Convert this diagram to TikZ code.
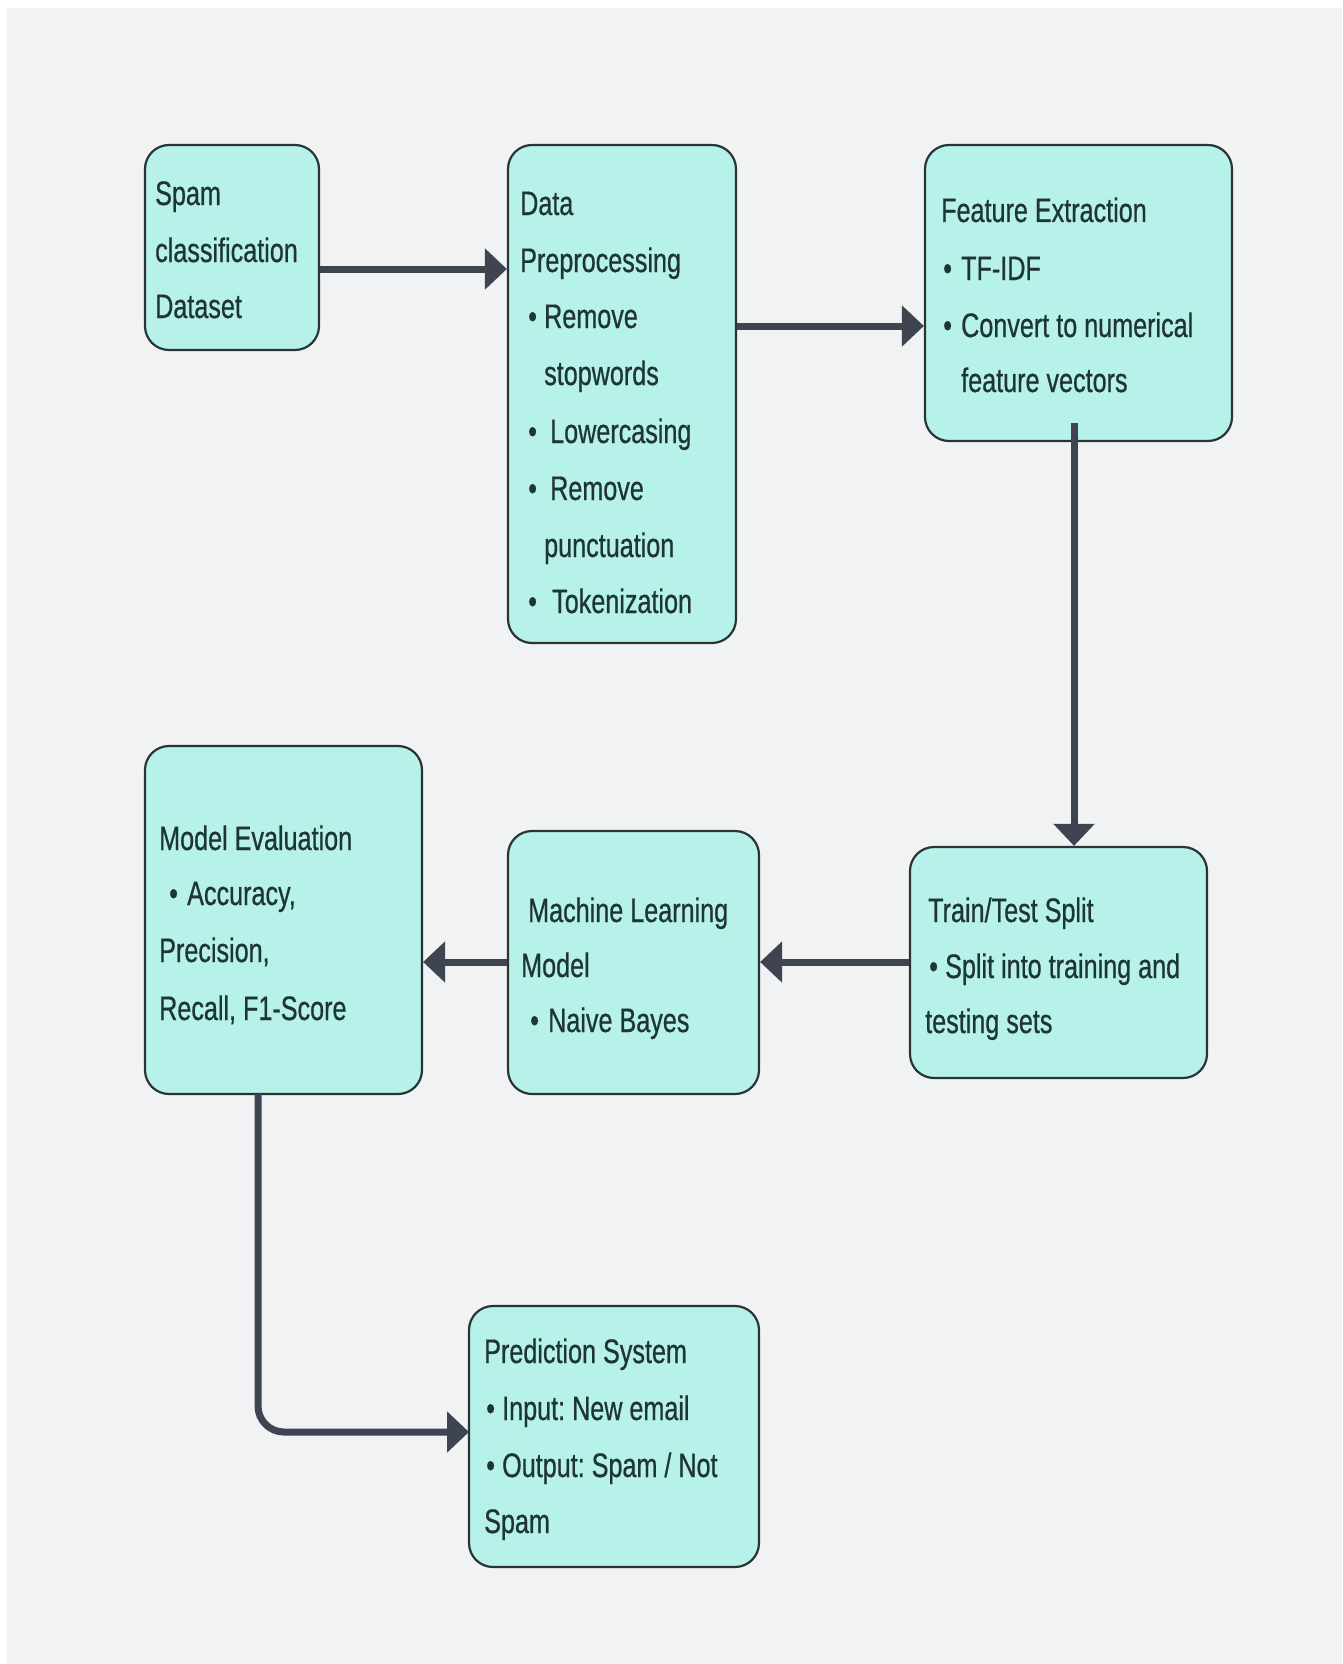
\documentclass[tikz,border=0pt]{standalone}
\usepackage{fontspec}
\setmainfont[FakeStretch=0.74,FakeBold=0.6]{Liberation Sans}
\usetikzlibrary{arrows.meta}
\frenchspacing
\definecolor{bgc}{HTML}{F1F2F4}
\definecolor{boxc}{HTML}{B6F2EA}
\definecolor{edgec}{HTML}{2A3434}
\definecolor{txtc}{HTML}{1F3534}
\definecolor{linec}{HTML}{3E4450}
\newcommand\bl[1]{\makebox[#1pt][l]{•}}
\tikzset{
  box/.style={draw=edgec, fill=boxc, line width=2.2pt, rounded corners=24pt, rectangle, inner sep=0pt},
  txt/.style={anchor=base west, inner sep=0pt, text=txtc, font=\fontsize{34}{40}\selectfont\frenchspacing},
  conn/.style={draw=linec, line width=7pt, -{Triangle[length=22pt,width=40pt]}},
}
\begin{document}
\begin{tikzpicture}[x=1pt,y=-1pt]
\useasboundingbox (0,0) rectangle (1342,1664);
\fill[white] (0,0) rectangle (1342,1664);
\fill[bgc] (7,8) rectangle (1342,1664);

% boxes
\node[box, minimum width=174pt, minimum height=205pt] (sp) at (232,247.5) {};
\node[box, minimum width=228pt, minimum height=498pt] (dp) at (622,394) {};
\node[box, minimum width=307pt, minimum height=296pt] (fe) at (1078.5,293) {};
\node[box, minimum width=277pt, minimum height=348pt] (me) at (283.5,920) {};
\node[box, minimum width=251pt, minimum height=263pt] (ml) at (633.5,962.5) {};
\node[box, minimum width=297pt, minimum height=231pt] (tt) at (1058.5,962.5) {};
\node[box, minimum width=290pt, minimum height=261pt] (pr) at (614,1436.5) {};

% texts
\node[txt] (sp1) at (155,205) {Spam};
\node[txt] (sp2) at (155,262) {classification};
\node[txt] (sp3) at (155,318) {Dataset};

\node[txt] (dp1) at (520,215) {Data};
\node[txt] (dp2) at (520,272) {Preprocessing};
\node[txt] (dp3) at (528,328) {\bl{16}Remove};
\node[txt] (dp4) at (544,385) {stopwords};
\node[txt] (dp5) at (528,443) {\bl{22}Lowercasing};
\node[txt] (dp6) at (528,500) {\bl{22}Remove};
\node[txt] (dp7) at (544,557) {punctuation};
\node[txt] (dp8) at (528,613) {\bl{24}Tokenization};

\node[txt] (fe1) at (941,222) {Feature Extraction};
\node[txt] (fe2) at (943,280) {\bl{18}TF-IDF};
\node[txt] (fe3) at (943,337) {\bl{18}Convert to numerical};
\node[txt] (fe4) at (961,392) {feature vectors};

\node[txt] (me1) at (159,850) {Model Evaluation};
\node[txt] (me2) at (169,905) {\bl{18}Accuracy,};
\node[txt] (me3) at (159,962) {Precision,};
\node[txt] (me4) at (159,1020) {Recall, F1-Score};

\node[txt] (ml1) at (528,922) {Machine Learning};
\node[txt] (ml2) at (521,977) {Model};
\node[txt] (ml3) at (530,1032) {\bl{18}Naive Bayes};

\node[txt] (tt1) at (928,922) {Train/Test Split};
\node[txt] (tt2) at (929,978) {\bl{16}Split into training and};
\node[txt] (tt3) at (925,1033) {testing sets};

\node[txt] (pr1) at (484,1363) {Prediction System};
\node[txt] (pr2) at (486,1420) {\bl{16}Input: New email};
\node[txt] (pr3) at (486,1477) {\bl{16}Output: Spam / Not};
\node[txt] (pr4) at (484,1533) {Spam};

% connector end points
\coordinate (feout) at (1074,423);
\coordinate (meout) at (258,1094);
\coordinate (prin) at (469,1432);

% connectors
\draw[conn] (sp.east |- 0,269) -- (dp.west |- 0,269);
\draw[conn] (dp.east |- 0,326) -- (fe.west |- 0,326);
\draw[conn] (feout) -- (feout |- tt.north);
\draw[conn] (tt.west |- 0,962) -- (ml.east |- 0,962);
\draw[conn] (ml.west |- 0,962) -- (me.east |- 0,962);
\draw[conn, rounded corners=26pt] (meout) |- (prin);
\end{tikzpicture}
\end{document}
